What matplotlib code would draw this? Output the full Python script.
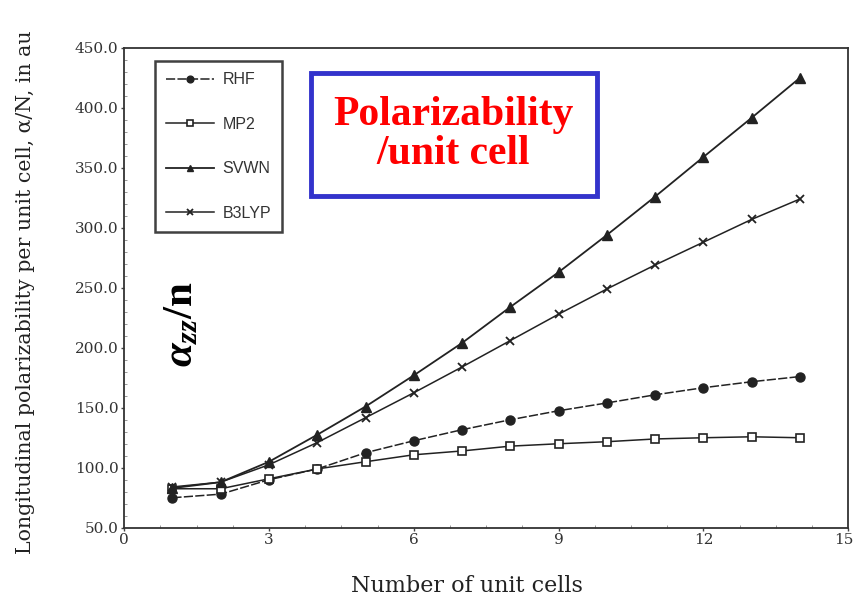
import matplotlib
matplotlib.use("Agg")
import matplotlib.pyplot as plt
from matplotlib.transforms import ScaledTranslation

# Number of unit cells in the chain
cells = [1, 2, 3, 4, 5, 6, 7, 8, 9, 10, 11, 12, 13, 14]

# Longitudinal polarizability per unit cell (au) for each method
rhf = [75, 78, 90, 99, 112.5, 122.5, 131.7, 140, 147.5, 154, 160.8, 166.7, 171.7, 176]
mp2 = [82.5, 82.5, 90.8, 99, 105, 110.8, 114, 118, 120, 121.7, 124, 125, 125.8, 125]
svwn = [83, 88, 105, 127.5, 151, 177, 204, 234, 263, 294, 326, 359, 391.7, 425]
b3lyp = [84, 88, 102.5, 121, 141.7, 162.5, 184, 206, 228, 249, 269, 288, 307, 324]

x_ticks = [0, 3, 6, 9, 12, 15]
y_ticks = [50, 100, 150, 200, 250, 300, 350, 400, 450]

plt.rcParams["mathtext.fontset"] = "custom"
plt.rcParams["mathtext.rm"] = "Liberation Serif:bold"
plt.rcParams["mathtext.it"] = "Liberation Serif:italic:bold"
plt.rcParams["mathtext.bf"] = "Liberation Serif:bold"

fig = plt.figure(figsize=(8.56, 5.97), dpi=100)
ax = fig.add_axes([0.145, 0.116, 0.846, 0.804])

ink = "#222222"
ax.plot(cells, rhf, color=ink, lw=1.1, ls=(0, (6, 1.5)), marker="o", ms=6.5,
        mfc=ink, mec=ink, label="RHF")
ax.plot(cells, mp2, color=ink, lw=1.1, marker="s", ms=6, mfc="white",
        mec=ink, mew=1.2, label="MP2")
ax.plot(cells, svwn, color=ink, lw=1.3, marker="^", ms=6.5, mfc=ink,
        mec=ink, label="SVWN")
ax.plot(cells, b3lyp, color=ink, lw=1.1, marker="x", ms=6, mew=1.3,
        mec=ink, label="B3LYP")

ax.set_xlim(0, 15)
ax.set_ylim(50, 450)
ax.set_xticks(x_ticks)
ax.set_yticks(y_ticks)
ax.set_yticklabels([f"{v:.1f}" for v in y_ticks])
ax.minorticks_on()
ax.tick_params(which="major", direction="out", length=2.5, width=1, colors="#444444",
               labelsize=11, labelcolor="#333333", pad=1.5)
ax.tick_params(which="minor", direction="in", length=2, width=0.6, colors="#888888")
for lab in ax.get_xticklabels() + ax.get_yticklabels():
    lab.set_family("DejaVu Serif")
# keep the last x tick label inside the canvas
last = ax.get_xticklabels()[-1]
last.set_transform(last.get_transform() + ScaledTranslation(-3 / 72, 0, fig.dpi_scale_trans))
for sp in ax.spines.values():
    sp.set_color("#333333")
    sp.set_linewidth(1.3)

ax.set_xlabel("Number of unit cells", family="DejaVu Serif", fontsize=16,
              color="#222222")
ax.xaxis.set_label_coords(0.474, -0.098)
ax.set_ylabel("Longitudinal polarizability per unit cell, \u03b1/N, in au",
              family="DejaVu Serif", fontsize=14.8, color="#222222")
ax.yaxis.set_label_coords(-0.123, 0.49)

# Method legend in the upper-left corner
leg = ax.legend(loc="upper left", bbox_to_anchor=(0.043, 0.972), frameon=True,
                fancybox=False, edgecolor="#111111", handlelength=3.0,
                labelspacing=1.85, borderpad=0.7, handletextpad=0.5,
                borderaxespad=0, markerscale=0.75,
                prop={"family": "Liberation Sans", "size": 11.5})
leg.get_frame().set_linewidth(1.8)
for t in leg.get_texts():
    t.set_color("#333333")

# Boxed title annotation
ax.text(0.455, 0.819, "Polarizability\n/unit cell", transform=ax.transAxes,
        ha="center", va="center", color="#ff0000", fontsize=30, fontweight="bold",
        family="Liberation Serif", linespacing=1.05,
        bbox=dict(boxstyle="square,pad=0.55", fc="white", ec="#3333cc", lw=3.5))

# Rotated alpha_zz / n label inside the plot
ax.text(0.077, 0.423, r"$\alpha_{zz}/\mathrm{n}$", transform=ax.transAxes,
        rotation=90, ha="center", va="center", fontsize=31, color="black")

fig.savefig("out.png", dpi=100)
